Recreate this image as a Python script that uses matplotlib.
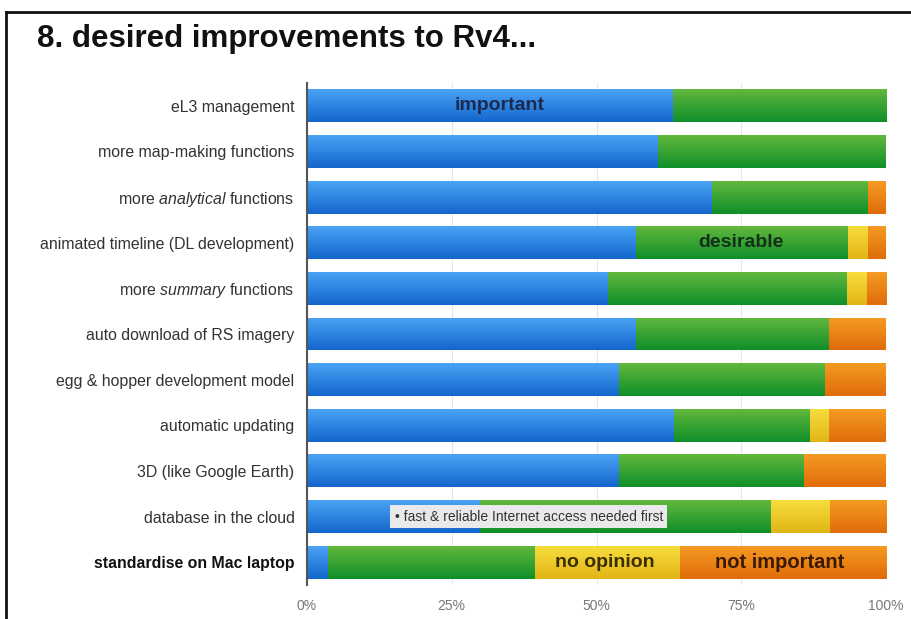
import numpy as np
import matplotlib
matplotlib.use("Agg")
import matplotlib.pyplot as plt
from matplotlib.colors import LinearSegmentedColormap
from matplotlib.lines import Line2D

plt.rcParams['font.family'] = ['Liberation Sans', 'DejaVu Sans']
plt.rcParams['mathtext.fontset'] = 'custom'
plt.rcParams['mathtext.rm'] = 'Liberation Sans'
plt.rcParams['mathtext.it'] = 'Liberation Sans:italic'

categories = [
    "eL3 management",
    "more map-making functions",
    r"more $\it{analytical}$ functions",
    "animated timeline (DL development)",
    r"more $\it{summary}$ functions",
    "auto download of RS imagery",
    "egg & hopper development model",
    "automatic updating",
    "3D (like Google Earth)",
    "database in the cloud",
    "standardise on Mac laptop",
]
important     = [63.2, 60.7, 70.0, 56.8, 51.9, 56.8, 53.8, 63.4, 53.8, 29.9, 3.6]
desirable     = [36.8, 39.3, 26.9, 36.7, 41.4, 33.4, 35.7, 23.5, 32.1, 50.2, 35.8]
no_opinion    = [0.0, 0.0, 0.0, 3.4, 3.4, 0.0, 0.0, 3.3, 0.0, 10.2, 25.0]
not_important = [0.0, 0.0, 3.1, 3.1, 3.3, 9.8, 10.5, 9.8, 14.1, 9.7, 35.6]
xticks = [0, 25, 50, 75, 100]
xtick_labels = ["0%", "25%", "50%", "75%", "100%"]

series = [
    ("important", important, "#4aa3f5", "#1466cc"),
    ("desirable", desirable, "#62b83c", "#0f8f2a"),
    ("no opinion", no_opinion, "#f6dd3c", "#e2b516"),
    ("not important", not_important, "#f49b22", "#e06c0a"),
]

fig = plt.figure(figsize=(9.11, 6.19), dpi=100)
fig.patch.set_facecolor("white")
ax = fig.add_axes([307/911, 1-585/619, (886-307)/911, (585-83)/619])

n = len(categories)
ypos = np.arange(n)[::-1]
h = 0.72
left = np.zeros(n)
grad = np.linspace(0, 1, 64).reshape(-1, 1)
for name, vals, light, dark in series:
    vals = np.array(vals)
    bars = ax.barh(ypos, vals, left=left, height=h, color=dark, edgecolor="none", zorder=2)
    cmap = LinearSegmentedColormap.from_list(name, [light, dark])
    for b, v in zip(bars, vals):
        if v <= 0:
            continue
        x0, y0 = b.get_x(), b.get_y()
        im = ax.imshow(grad, extent=[x0, x0 + b.get_width(), y0, y0 + b.get_height()],
                       origin="upper", aspect="auto", cmap=cmap, zorder=2.5,
                       interpolation="bilinear")
        im.set_clip_path(b)
    left += vals

ax.set_xlim(0, 100)
ax.set_ylim(-0.5, n - 0.5)
ax.set_xticks(xticks)
ax.set_xticklabels(xtick_labels, color="#777777", fontsize=10)
ax.set_yticks(ypos)
ax.set_yticklabels(categories, fontsize=11.4, color="#333333")
ax.get_yticklabels()[-1].set_fontweight("bold")
ax.get_yticklabels()[-1].set_color("#111111")
ax.tick_params(axis="both", length=0)
ax.tick_params(axis="x", pad=10)
ax.tick_params(axis="y", pad=9)
for s in ["top", "right", "bottom"]:
    ax.spines[s].set_visible(False)
ax.spines["left"].set_color("#555555")
ax.spines["left"].set_linewidth(1.5)
ax.spines["left"].set_zorder(5)
ax.grid(axis="x", color="#e4e4ea", linewidth=0.8, zorder=0)
ax.set_axisbelow(True)

# annotations
ax.text(33.3, ypos[0], "important", ha="center", va="center", fontsize=14,
        fontweight="bold", color="#1b2a4e", zorder=6)
ax.text(75.0, ypos[3], "desirable", ha="center", va="center", fontsize=14,
        fontweight="bold", color="#14301a", zorder=6)
ax.text(51.5, ypos[10], "no opinion", ha="center", va="center", fontsize=14,
        fontweight="bold", color="#3a2e00", zorder=6)
ax.text(81.7, ypos[10], "not important", ha="center", va="center", fontsize=14.5,
        fontweight="bold", color="#3a1a00", zorder=6)
ax.text(38.3, ypos[9], "\u2022 fast & reliable Internet access needed first", ha="center",
        va="center", fontsize=10, color="#333333", zorder=6,
        bbox=dict(boxstyle="square,pad=0.3", facecolor="#e9e9ec", edgecolor="none"))

# title and slide frame
fig.text(37/911, 1-47/619, "8. desired improvements to Rv4...", fontsize=22.5,
         fontweight="bold", color="#111111", ha="left", va="baseline")
fig.add_artist(Line2D([6/911, 1], [1-12/619, 1-12/619], color="#111111", linewidth=2,
                      transform=fig.transFigure))
fig.add_artist(Line2D([6/911, 6/911], [0, 1-12/619], color="#111111", linewidth=2,
                      transform=fig.transFigure))

fig.savefig("out.png", dpi=100, facecolor="white")
